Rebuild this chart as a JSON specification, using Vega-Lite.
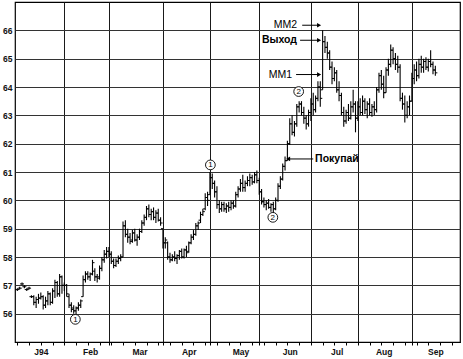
{
  "$schema": "https://vega.github.io/schema/vega-lite/v6.json",
  "width": 445,
  "height": 340,
  "autosize": {"type": "none"},
  "padding": {"left": 15, "top": 2, "right": 3, "bottom": 17},
  "background": "white",
  "config": {"view": {"stroke": "#000", "strokeWidth": 1.2}, "font": "Liberation Sans"},
  "datasets": {
    "bars": [
      {"d":0,"o":56.85,"h":56.9,"l":56.8,"c":56.85},
      {"d":1,"o":56.9,"h":56.95,"l":56.85,"c":56.9},
      {"d":2,"o":57.05,"h":57.1,"l":57.0,"c":57.05},
      {"d":3,"o":56.95,"h":57.0,"l":56.9,"c":56.95},
      {"d":4,"o":56.85,"h":56.9,"l":56.8,"c":56.85},
      {"d":5,"o":56.9,"h":56.95,"l":56.85,"c":56.9},
      {"d":6,"o":56.6,"h":56.65,"l":56.55,"c":56.6},
      {"d":7,"o":56.6,"h":56.65,"l":56.3,"c":56.4},
      {"d":8,"o":56.4,"h":56.6,"l":56.2,"c":56.5},
      {"d":9,"o":56.5,"h":56.7,"l":56.35,"c":56.55},
      {"d":10,"o":56.55,"h":56.75,"l":56.5,"c":56.6},
      {"d":11,"o":56.6,"h":56.65,"l":56.15,"c":56.3},
      {"d":12,"o":56.3,"h":56.6,"l":56.2,"c":56.45},
      {"d":13,"o":56.45,"h":56.8,"l":56.3,"c":56.7},
      {"d":14,"o":56.7,"h":56.75,"l":56.3,"c":56.4},
      {"d":15,"o":56.4,"h":56.9,"l":56.35,"c":56.8},
      {"d":16,"o":56.8,"h":57.2,"l":56.55,"c":57.1},
      {"d":17,"o":57.1,"h":57.15,"l":56.6,"c":56.7},
      {"d":18,"o":56.7,"h":57.4,"l":56.6,"c":57.3},
      {"d":19,"o":57.3,"h":57.35,"l":56.7,"c":57.0},
      {"d":20,"o":57.0,"h":57.1,"l":56.8,"c":57.0},
      {"d":21,"o":57.0,"h":57.05,"l":56.6,"c":56.7},
      {"d":22,"o":56.6,"h":56.7,"l":56.2,"c":56.3},
      {"d":23,"o":56.3,"h":56.4,"l":56.05,"c":56.15},
      {"d":24,"o":56.2,"h":56.3,"l":56.0,"c":56.1},
      {"d":25,"o":56.1,"h":56.25,"l":55.95,"c":56.2},
      {"d":26,"o":56.2,"h":56.4,"l":56.1,"c":56.3},
      {"d":27,"o":56.3,"h":56.5,"l":56.2,"c":56.45},
      {"d":28,"o":56.6,"h":57.35,"l":56.6,"c":57.2},
      {"d":29,"o":57.2,"h":57.5,"l":57.1,"c":57.4},
      {"d":30,"o":57.4,"h":57.5,"l":57.2,"c":57.3},
      {"d":31,"o":57.3,"h":57.45,"l":57.15,"c":57.4},
      {"d":32,"o":57.4,"h":57.9,"l":57.35,"c":57.8},
      {"d":33,"o":57.5,"h":57.6,"l":57.15,"c":57.3},
      {"d":34,"o":57.3,"h":57.4,"l":57.1,"c":57.25},
      {"d":35,"o":57.3,"h":57.7,"l":57.2,"c":57.6},
      {"d":36,"o":57.6,"h":58.0,"l":57.5,"c":57.9},
      {"d":37,"o":57.9,"h":58.25,"l":57.8,"c":58.1},
      {"d":38,"o":58.1,"h":58.35,"l":57.95,"c":58.2},
      {"d":39,"o":58.2,"h":58.35,"l":58.0,"c":58.1},
      {"d":40,"o":58.1,"h":58.2,"l":57.75,"c":57.85},
      {"d":41,"o":57.85,"h":57.95,"l":57.6,"c":57.7},
      {"d":42,"o":57.7,"h":57.95,"l":57.65,"c":57.85},
      {"d":43,"o":57.85,"h":58.05,"l":57.75,"c":57.95},
      {"d":44,"o":57.95,"h":58.1,"l":57.85,"c":58.0},
      {"d":45,"o":58.0,"h":59.25,"l":58.0,"c":59.1},
      {"d":46,"o":59.1,"h":59.3,"l":58.7,"c":58.8},
      {"d":47,"o":58.8,"h":59.0,"l":58.5,"c":58.7},
      {"d":48,"o":58.7,"h":58.85,"l":58.45,"c":58.55},
      {"d":49,"o":58.6,"h":58.95,"l":58.5,"c":58.85},
      {"d":50,"o":58.85,"h":59.0,"l":58.55,"c":58.6},
      {"d":51,"o":58.6,"h":58.8,"l":58.4,"c":58.7},
      {"d":52,"o":58.7,"h":59.0,"l":58.6,"c":58.9},
      {"d":53,"o":58.9,"h":59.3,"l":58.85,"c":59.2},
      {"d":54,"o":59.2,"h":59.5,"l":59.1,"c":59.4},
      {"d":55,"o":59.4,"h":59.8,"l":59.3,"c":59.7},
      {"d":56,"o":59.7,"h":59.85,"l":59.4,"c":59.5},
      {"d":57,"o":59.5,"h":59.7,"l":59.3,"c":59.6},
      {"d":58,"o":59.6,"h":59.75,"l":59.3,"c":59.4},
      {"d":59,"o":59.4,"h":59.65,"l":59.2,"c":59.55},
      {"d":60,"o":59.55,"h":59.7,"l":59.25,"c":59.3},
      {"d":61,"o":59.3,"h":59.4,"l":59.1,"c":59.2},
      {"d":62,"o":59.0,"h":59.0,"l":58.3,"c":58.5},
      {"d":63,"o":58.5,"h":58.7,"l":58.3,"c":58.6},
      {"d":64,"o":58.5,"h":58.55,"l":57.9,"c":58.0},
      {"d":65,"o":58.0,"h":58.15,"l":57.8,"c":57.9},
      {"d":66,"o":57.9,"h":58.1,"l":57.85,"c":58.0},
      {"d":67,"o":58.0,"h":58.2,"l":57.85,"c":57.95},
      {"d":68,"o":57.95,"h":58.1,"l":57.75,"c":58.05},
      {"d":69,"o":58.05,"h":58.25,"l":57.9,"c":58.2},
      {"d":70,"o":58.2,"h":58.3,"l":57.95,"c":58.0},
      {"d":71,"o":58.0,"h":58.3,"l":57.95,"c":58.25},
      {"d":72,"o":58.25,"h":58.4,"l":58.0,"c":58.15},
      {"d":73,"o":58.2,"h":58.55,"l":58.15,"c":58.5},
      {"d":74,"o":58.5,"h":58.8,"l":58.45,"c":58.7},
      {"d":75,"o":58.7,"h":58.95,"l":58.6,"c":58.8},
      {"d":76,"o":58.8,"h":59.2,"l":58.75,"c":59.1},
      {"d":77,"o":59.1,"h":59.25,"l":58.95,"c":59.2},
      {"d":78,"o":59.3,"h":59.6,"l":59.2,"c":59.5},
      {"d":79,"o":59.5,"h":59.7,"l":59.45,"c":59.6},
      {"d":80,"o":59.7,"h":60.25,"l":59.65,"c":60.1},
      {"d":81,"o":60.1,"h":60.3,"l":59.8,"c":60.0},
      {"d":82,"o":60.2,"h":61.0,"l":60.2,"c":60.8},
      {"d":83,"o":60.8,"h":60.95,"l":60.4,"c":60.6},
      {"d":84,"o":60.6,"h":60.7,"l":60.1,"c":60.3},
      {"d":85,"o":60.3,"h":60.5,"l":59.7,"c":59.85},
      {"d":86,"o":59.85,"h":60.0,"l":59.55,"c":59.7},
      {"d":87,"o":59.7,"h":59.95,"l":59.6,"c":59.85},
      {"d":88,"o":59.85,"h":59.95,"l":59.6,"c":59.7},
      {"d":89,"o":59.7,"h":59.9,"l":59.55,"c":59.8},
      {"d":90,"o":59.8,"h":59.95,"l":59.6,"c":59.75},
      {"d":91,"o":59.75,"h":60.0,"l":59.65,"c":59.9},
      {"d":92,"o":59.9,"h":60.0,"l":59.7,"c":59.8},
      {"d":93,"o":59.8,"h":60.3,"l":59.75,"c":60.2},
      {"d":94,"o":60.2,"h":60.5,"l":60.1,"c":60.4},
      {"d":95,"o":60.4,"h":60.75,"l":60.3,"c":60.6},
      {"d":96,"o":60.6,"h":60.9,"l":60.3,"c":60.45},
      {"d":97,"o":60.45,"h":60.7,"l":60.3,"c":60.6},
      {"d":98,"o":60.6,"h":60.85,"l":60.5,"c":60.7},
      {"d":99,"o":60.7,"h":60.95,"l":60.5,"c":60.8},
      {"d":100,"o":60.8,"h":60.9,"l":60.55,"c":60.65},
      {"d":101,"o":60.65,"h":61.0,"l":60.6,"c":60.9},
      {"d":102,"o":60.9,"h":61.05,"l":60.6,"c":60.7},
      {"d":103,"o":60.7,"h":60.8,"l":60.2,"c":60.3},
      {"d":104,"o":60.3,"h":60.4,"l":59.85,"c":59.95},
      {"d":105,"o":59.95,"h":60.1,"l":59.75,"c":59.85},
      {"d":106,"o":59.85,"h":60.0,"l":59.65,"c":59.9},
      {"d":107,"o":59.9,"h":60.05,"l":59.7,"c":59.75},
      {"d":108,"o":59.75,"h":59.9,"l":59.6,"c":59.85},
      {"d":109,"o":59.85,"h":59.95,"l":59.55,"c":59.7},
      {"d":110,"o":59.7,"h":60.1,"l":59.65,"c":60.0},
      {"d":111,"o":60.0,"h":60.6,"l":59.95,"c":60.5},
      {"d":112,"o":60.5,"h":60.85,"l":60.4,"c":60.75},
      {"d":113,"o":60.75,"h":61.3,"l":60.7,"c":61.2},
      {"d":114,"o":61.2,"h":61.55,"l":61.05,"c":61.4},
      {"d":115,"o":61.4,"h":62.1,"l":61.4,"c":62.0},
      {"d":116,"o":62.0,"h":62.9,"l":61.95,"c":62.7},
      {"d":117,"o":62.7,"h":63.0,"l":62.3,"c":62.4},
      {"d":118,"o":62.4,"h":62.8,"l":62.25,"c":62.7},
      {"d":119,"o":62.7,"h":63.4,"l":62.6,"c":63.3},
      {"d":120,"o":63.3,"h":63.5,"l":63.1,"c":63.4},
      {"d":121,"o":63.4,"h":63.5,"l":63.0,"c":63.1},
      {"d":122,"o":63.1,"h":63.3,"l":62.7,"c":62.9},
      {"d":123,"o":62.9,"h":63.0,"l":62.5,"c":62.7},
      {"d":124,"o":62.7,"h":63.2,"l":62.6,"c":63.1},
      {"d":125,"o":63.1,"h":63.6,"l":62.8,"c":63.4},
      {"d":126,"o":63.4,"h":63.8,"l":63.0,"c":63.2},
      {"d":127,"o":63.2,"h":63.7,"l":63.1,"c":63.6},
      {"d":128,"o":63.6,"h":64.2,"l":63.5,"c":64.0},
      {"d":129,"o":64.0,"h":64.2,"l":63.3,"c":63.6},
      {"d":130,"o":63.9,"h":66.0,"l":63.9,"c":65.6},
      {"d":131,"o":65.6,"h":65.8,"l":65.2,"c":65.4},
      {"d":132,"o":65.4,"h":65.6,"l":65.0,"c":65.2},
      {"d":133,"o":65.2,"h":65.3,"l":64.6,"c":64.7},
      {"d":134,"o":64.7,"h":64.9,"l":64.1,"c":64.3},
      {"d":135,"o":64.3,"h":64.7,"l":64.2,"c":64.5},
      {"d":136,"o":64.5,"h":64.6,"l":63.8,"c":63.9},
      {"d":137,"o":63.9,"h":64.2,"l":63.5,"c":63.7},
      {"d":138,"o":63.7,"h":63.8,"l":63.0,"c":63.1},
      {"d":139,"o":63.1,"h":63.3,"l":62.6,"c":62.8},
      {"d":140,"o":62.8,"h":63.2,"l":62.7,"c":63.1},
      {"d":141,"o":63.1,"h":63.4,"l":62.8,"c":62.9},
      {"d":142,"o":62.9,"h":63.5,"l":62.85,"c":63.3},
      {"d":143,"o":63.3,"h":63.9,"l":63.1,"c":63.4},
      {"d":144,"o":63.4,"h":63.5,"l":62.4,"c":62.9},
      {"d":145,"o":62.9,"h":63.5,"l":62.8,"c":63.3},
      {"d":146,"o":63.3,"h":63.6,"l":63.0,"c":63.1},
      {"d":147,"o":63.1,"h":63.7,"l":63.0,"c":63.5},
      {"d":148,"o":63.5,"h":63.6,"l":63.05,"c":63.2},
      {"d":149,"o":63.2,"h":63.5,"l":62.9,"c":63.4},
      {"d":150,"o":63.4,"h":63.6,"l":63.0,"c":63.1},
      {"d":151,"o":63.1,"h":63.4,"l":62.95,"c":63.3},
      {"d":152,"o":63.3,"h":63.5,"l":63.0,"c":63.2},
      {"d":153,"o":63.2,"h":64.0,"l":63.1,"c":63.9},
      {"d":154,"o":63.9,"h":64.5,"l":63.8,"c":64.4},
      {"d":155,"o":64.4,"h":64.6,"l":63.9,"c":64.1},
      {"d":156,"o":64.1,"h":64.4,"l":63.6,"c":63.8},
      {"d":157,"o":63.8,"h":64.7,"l":63.8,"c":64.6},
      {"d":158,"o":64.6,"h":65.0,"l":64.4,"c":64.8},
      {"d":159,"o":64.8,"h":65.5,"l":64.7,"c":65.3},
      {"d":160,"o":65.3,"h":65.4,"l":64.8,"c":65.0},
      {"d":161,"o":65.0,"h":65.2,"l":64.6,"c":64.8},
      {"d":162,"o":64.8,"h":65.1,"l":64.5,"c":64.7},
      {"d":163,"o":64.7,"h":64.8,"l":63.5,"c":63.6},
      {"d":164,"o":63.6,"h":63.8,"l":63.2,"c":63.4},
      {"d":165,"o":63.4,"h":63.7,"l":62.75,"c":63.0},
      {"d":166,"o":63.0,"h":63.5,"l":62.9,"c":63.3},
      {"d":167,"o":63.3,"h":63.7,"l":63.0,"c":63.5},
      {"d":168,"o":63.5,"h":64.5,"l":63.5,"c":64.3},
      {"d":169,"o":64.3,"h":64.8,"l":64.1,"c":64.6},
      {"d":170,"o":64.6,"h":64.9,"l":64.2,"c":64.4},
      {"d":171,"o":64.4,"h":65.0,"l":64.3,"c":64.8},
      {"d":172,"o":64.8,"h":65.1,"l":64.5,"c":64.7},
      {"d":173,"o":64.7,"h":65.0,"l":64.5,"c":64.9},
      {"d":174,"o":64.9,"h":65.05,"l":64.6,"c":64.7},
      {"d":175,"o":64.7,"h":65.0,"l":64.55,"c":64.9},
      {"d":176,"o":64.9,"h":65.3,"l":64.7,"c":64.8},
      {"d":177,"o":64.8,"h":64.9,"l":64.45,"c":64.6},
      {"d":178,"o":64.6,"h":64.75,"l":64.4,"c":64.5}
    ],
    "circles": [
      {"d":24.7,"v":55.8,"t":"1"},
      {"d":82.2,"v":61.25,"t":"1"},
      {"d":108.8,"v":59.4,"t":"2"},
      {"d":119.8,"v":63.84,"t":"2"}
    ],
    "plainLabels": [
      {"d":119.1,"v":66.18,"t":"MM2"},
      {"d":117.0,"v":64.44,"t":"MM1"}
    ],
    "exitLabel": [
      {"d":119.1,"v":65.65,"t":"Выход"}
    ],
    "buyLabel": [
      {"d":126.8,"v":61.46,"t":"Покупай"}
    ],
    "arrows": [
      {"a":121.3,"b":128.5,"v":66.18},
      {"a":120.4,"b":128.5,"v":65.65},
      {"a":118.7,"b":128.5,"v":64.44},
      {"a":115.3,"b":126.0,"v":61.46}
    ],
    "headsRight": [
      {"d":128.5,"v":66.18},
      {"d":128.5,"v":65.65},
      {"d":128.5,"v":64.44}
    ],
    "headsLeft": [
      {"d":115.3,"v":61.46}
    ]
  },
  "layer": [
    {
      "data": {"name": "bars"},
      "mark": {"type": "rule", "color": "#000", "strokeWidth": 1.1},
      "encoding": {
        "x": {
          "field": "d", "type": "quantitative",
          "scale": {"domain": [-1, 188.5], "nice": false, "zero": false},
          "axis": {
            "title": null,
            "tickCount": 200,
            "values": [0,5,10,15,20,25,30,31,35,39,40,45,50,52,55,60,62,65,70,73,75,80,82,85,90,95,100,103,105,110,115,116,120,125,130,135,136,140,145,150,155,156,160,165,168,170,175,178,180,185],
            "labelExpr": "datum.value == 10 ? 'J94' : datum.value == 31 ? 'Feb' : datum.value == 52 ? 'Mar' : datum.value == 73 ? 'Apr' : datum.value == 95 ? 'May' : datum.value == 116 ? 'Jun' : datum.value == 136 ? 'Jul' : datum.value == 156 ? 'Aug' : datum.value == 178 ? 'Sep' : ''",
            "grid": true,
            "gridColor": "#1a1a1a",
            "gridWidth": 1,
            "gridOpacity": {"condition": {"test": "indexof([20,39,62,82,103,125,145,168], datum.value) >= 0", "value": 1}, "value": 0},
            "tickOpacity": {"condition": {"test": "indexof([31,52,73,116,136,156,178], datum.value) >= 0", "value": 0}, "value": 1},
            "tickSize": 3,
            "tickColor": "#000",
            "domainColor": "#000",
            "labelFont": "Liberation Sans",
            "labelFontWeight": "bold",
            "labelFontSize": 8.5,
            "labelColor": "#111",
            "labelPadding": 2,
            "labelOverlap": false,
            "labelFlush": false
          }
        },
        "y": {
          "field": "l", "type": "quantitative",
          "scale": {"domain": [55, 67], "nice": false, "zero": false},
          "axis": {
            "title": null,
            "tickCount": 50,
            "values": [56,57,58,59,60,61,62,63,64,65,66],
            "format": "d",
            "grid": true,
            "gridColor": "#333333",
            "gridWidth": 1,
            "ticks": false,
            "domain": false,
            "labelFont": "Liberation Sans",
            "labelFontWeight": "bold",
            "labelFontSize": 8.5,
            "labelColor": "#111",
            "labelPadding": 3,
            "labelOverlap": false
          }
        },
        "y2": {"field": "h"}
      }
    },
    {
      "data": {"name": "bars"},
      "mark": {"type": "tick", "orient": "horizontal", "size": 2, "thickness": 1, "xOffset": -1, "color": "#000", "opacity": 1},
      "encoding": {
        "x": {"field": "d", "type": "quantitative"},
        "y": {"field": "o", "type": "quantitative"}
      }
    },
    {
      "data": {"name": "bars"},
      "mark": {"type": "tick", "orient": "horizontal", "size": 2, "thickness": 1, "xOffset": 1, "color": "#000", "opacity": 1},
      "encoding": {
        "x": {"field": "d", "type": "quantitative"},
        "y": {"field": "c", "type": "quantitative"}
      }
    },
    {
      "data": {"name": "arrows"},
      "mark": {"type": "rule", "color": "#000", "strokeWidth": 1},
      "encoding": {
        "x": {"field": "a", "type": "quantitative"},
        "x2": {"field": "b"},
        "y": {"field": "v", "type": "quantitative"}
      }
    },
    {
      "data": {"name": "headsRight"},
      "mark": {"type": "point", "shape": "triangle-right", "filled": true, "color": "#000", "size": 22, "opacity": 1},
      "encoding": {
        "x": {"field": "d", "type": "quantitative"},
        "y": {"field": "v", "type": "quantitative"}
      }
    },
    {
      "data": {"name": "headsLeft"},
      "mark": {"type": "point", "shape": "triangle-left", "filled": true, "color": "#000", "size": 22, "opacity": 1},
      "encoding": {
        "x": {"field": "d", "type": "quantitative"},
        "y": {"field": "v", "type": "quantitative"}
      }
    },
    {
      "data": {"name": "circles"},
      "mark": {"type": "point", "shape": "circle", "filled": true, "fill": "white", "stroke": "#000", "strokeWidth": 0.9, "size": 95, "opacity": 1},
      "encoding": {
        "x": {"field": "d", "type": "quantitative"},
        "y": {"field": "v", "type": "quantitative"}
      }
    },
    {
      "data": {"name": "circles"},
      "mark": {"type": "text", "font": "Liberation Sans", "fontSize": 8, "align": "center", "baseline": "middle", "dy": 0.5, "color": "#000"},
      "encoding": {
        "x": {"field": "d", "type": "quantitative"},
        "y": {"field": "v", "type": "quantitative"},
        "text": {"field": "t"}
      }
    },
    {
      "data": {"name": "plainLabels"},
      "mark": {"type": "text", "font": "Liberation Sans", "fontSize": 10.5, "align": "right", "baseline": "middle", "color": "#000"},
      "encoding": {
        "x": {"field": "d", "type": "quantitative"},
        "y": {"field": "v", "type": "quantitative"},
        "text": {"field": "t"}
      }
    },
    {
      "data": {"name": "exitLabel"},
      "mark": {"type": "text", "font": "Liberation Sans", "fontSize": 10.5, "fontWeight": "bold", "align": "right", "baseline": "middle", "color": "#000"},
      "encoding": {
        "x": {"field": "d", "type": "quantitative"},
        "y": {"field": "v", "type": "quantitative"},
        "text": {"field": "t"}
      }
    },
    {
      "data": {"name": "buyLabel"},
      "mark": {"type": "text", "font": "Liberation Sans", "fontSize": 10.5, "fontWeight": "bold", "align": "left", "baseline": "middle", "color": "#000"},
      "encoding": {
        "x": {"field": "d", "type": "quantitative"},
        "y": {"field": "v", "type": "quantitative"},
        "text": {"field": "t"}
      }
    }
  ]
}
